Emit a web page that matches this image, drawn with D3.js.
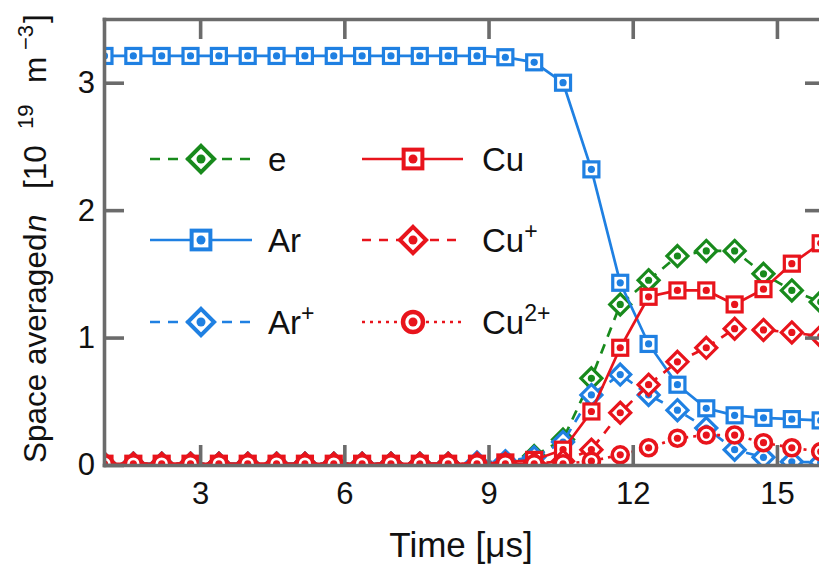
<!DOCTYPE html>
<html>
<head>
<meta charset="utf-8">
<script src="https://cdn.jsdelivr.net/npm/d3@7"></script>
<style>
  html, body { margin: 0; padding: 0; background: #fff; }
  svg { display: block; font-family: "Liberation Sans", Arial, sans-serif; }
</style>
</head>
<body>
<svg id="chart" width="819" height="567"></svg>
<script>
// Sampling instants [µs]
const time = [1.01, 1.61, 2.20, 2.80, 3.39, 3.99, 4.59, 5.18, 5.78, 6.37, 6.97, 7.57, 8.16,
              8.76, 9.35, 9.95, 10.55, 11.14, 11.74, 12.33, 12.93, 13.53, 14.12, 14.72, 15.31, 15.91];

// Space-averaged densities [10^19 m^-3]
const eDensity   = [0.01, 0.01, 0.01, 0.01, 0.01, 0.01, 0.01, 0.01, 0.01, 0.01, 0.01, 0.01, 0.01,
                    0.01, 0.01, 0.07, 0.20, 0.68, 1.26, 1.45, 1.64, 1.68, 1.68, 1.50, 1.37, 1.28];
const arDensity  = [3.21, 3.21, 3.21, 3.21, 3.21, 3.21, 3.21, 3.21, 3.21, 3.21, 3.21, 3.21, 3.21,
                    3.21, 3.20, 3.16, 3.00, 2.32, 1.43, 0.95, 0.63, 0.445, 0.39, 0.37, 0.36, 0.35];
const arPlus     = [0.01, 0.01, 0.01, 0.01, 0.01, 0.01, 0.01, 0.01, 0.01, 0.01, 0.01, 0.01, 0.01,
                    0.02, 0.03, 0.06, 0.18, 0.55, 0.71, 0.55, 0.43, 0.29, 0.12, 0.06, 0.025, 0.02];
const cuDensity  = [0.01, 0.01, 0.01, 0.01, 0.01, 0.01, 0.01, 0.01, 0.01, 0.01, 0.01, 0.01, 0.01,
                    0.01, 0.02, 0.04, 0.12, 0.42, 0.92, 1.32, 1.37, 1.37, 1.26, 1.38, 1.58, 1.74];
const cuPlus     = [0.01, 0.01, 0.01, 0.01, 0.01, 0.01, 0.01, 0.01, 0.01, 0.01, 0.01, 0.01, 0.01,
                    0.01, 0.01, 0.01, 0.03, 0.12, 0.41, 0.63, 0.81, 0.92, 1.07, 1.06, 1.04, 1.01];
const cu2Plus    = [0.01, 0.01, 0.01, 0.01, 0.01, 0.01, 0.01, 0.01, 0.01, 0.01, 0.01, 0.01, 0.01,
                    0.01, 0.01, 0.01, 0.01, 0.03, 0.08, 0.135, 0.21, 0.235, 0.235, 0.175, 0.135, 0.105];

// Axis ticks
const xTicks = [3, 6, 9, 12, 15];
const yTicks = [0, 1, 2, 3];

const GREEN = "#188a1c", BLUE = "#1f80e2", RED = "#e8141c", AXIS = "#6b6b6b";

const series = [
  { label: "e",  sup: "",   values: eDensity,  color: GREEN, dash: "10,8", shape: "diamond" },
  { label: "Ar", sup: "",   values: arDensity, color: BLUE,  dash: null,   shape: "square" },
  { label: "Ar", sup: "+",  values: arPlus,    color: BLUE,  dash: "10,8", shape: "diamond" },
  { label: "Cu", sup: "",   values: cuDensity, color: RED,   dash: null,   shape: "square" },
  { label: "Cu", sup: "+",  values: cuPlus,    color: RED,   dash: "9,8",  shape: "diamond" },
  { label: "Cu", sup: "2+", values: cu2Plus,   color: RED,   dash: "3,5",  shape: "circle" }
];

const svg = d3.select("#chart");
const plot = { left: 104, right: 825, top: 19, bottom: 465 };

const x = d3.scaleLinear().domain([1, 16]).range([plot.left, plot.right]);
const y = d3.scaleLinear().domain([0, 3.5]).range([plot.bottom, plot.top]);

svg.append("defs").append("clipPath").attr("id", "plotClip")
  .append("rect")
  .attr("x", plot.left).attr("y", plot.top)
  .attr("width", plot.right - plot.left).attr("height", plot.bottom - plot.top);

// Marker with white face and a centre dot
function drawMarker(g, shape, color, k) {
  if (shape === "square") {
    const h = 7.5 * k;
    g.append("rect").attr("x", -h).attr("y", -h).attr("width", 2 * h).attr("height", 2 * h)
      .attr("fill", "#fff").attr("stroke", color).attr("stroke-width", 3.2 * k);
  } else if (shape === "diamond") {
    const h = 10.5 * k;
    g.append("path").attr("d", `M0,${-h}L${h},0L0,${h}L${-h},0Z`)
      .attr("fill", "#fff").attr("stroke", color).attr("stroke-width", 3.2 * k)
      .attr("stroke-linejoin", "miter");
  } else {
    g.append("circle").attr("r", 8 * k)
      .attr("fill", "#fff").attr("stroke", color).attr("stroke-width", 3.6 * k);
  }
  g.append("circle").attr("r", 3.6 * k).attr("fill", color);
}

const dataLayer = svg.append("g").attr("clip-path", "url(#plotClip)");
const line = d3.line().x(d => x(d[0])).y(d => y(d[1]));

series.forEach(s => {
  const pts = time.map((t, i) => [t, s.values[i]]);
  const g = dataLayer.append("g");
  g.append("path").datum(pts)
    .attr("d", line)
    .attr("fill", "none")
    .attr("stroke", s.color)
    .attr("stroke-width", 2.7)
    .attr("stroke-dasharray", s.dash);
  g.selectAll("g.pt").data(pts).join("g")
    .attr("class", "pt")
    .attr("transform", d => `translate(${x(d[0])},${y(d[1])})`)
    .each(function () { drawMarker(d3.select(this), s.shape, s.color, 1); });
});

// Frame with inward ticks on all four sides
function styleAxis(g) {
  g.select(".domain").attr("stroke", AXIS).attr("stroke-width", 3.6).attr("stroke-linecap", "square");
  g.selectAll(".tick line").attr("stroke", AXIS).attr("stroke-width", 3.6);
  g.selectAll(".tick text").attr("fill", "#111").attr("font-size", 31)
    .attr("font-family", "'Liberation Sans', Arial, sans-serif");
}

svg.append("g").attr("transform", `translate(0,${plot.bottom})`)
  .call(d3.axisBottom(x).tickValues(xTicks).tickSizeInner(-20).tickSizeOuter(0).tickPadding(17)
    .tickFormat(d3.format("d")))
  .call(styleAxis);
svg.append("g").attr("transform", `translate(0,${plot.top})`)
  .call(d3.axisTop(x).tickValues(xTicks).tickSizeInner(-20).tickSizeOuter(0).tickFormat(""))
  .call(styleAxis);
svg.append("g").attr("transform", `translate(${plot.left},0)`)
  .call(d3.axisLeft(y).tickValues(yTicks).tickSizeInner(-20).tickSizeOuter(0).tickPadding(9)
    .tickFormat(d3.format("d")))
  .call(styleAxis);
svg.append("g").attr("transform", `translate(${plot.right},0)`)
  .call(d3.axisRight(y).tickValues(yTicks.filter(v => v > 0)).tickSizeInner(-20).tickSizeOuter(0).tickFormat(""))
  .call(styleAxis);

// Axis titles
svg.append("text")
  .attr("x", 461).attr("y", 557)
  .attr("text-anchor", "middle")
  .attr("font-size", 35).attr("fill", "#111")
  .text("Time [μs]");

const yTitle = svg.append("text")
  .attr("transform", "translate(46,463) rotate(-90)")
  .attr("font-size", 31.5).attr("fill", "#111");
yTitle.append("tspan").attr("x", 0).text("Space averaged");
yTitle.append("tspan").attr("x", 231).attr("font-style", "italic").text("n");
yTitle.append("tspan").attr("x", 274).text("[10");
yTitle.append("tspan").attr("x", 334).attr("dy", -13).attr("font-size", 22).text("19");
yTitle.append("tspan").attr("x", 380).attr("dy", 13).text("m");
yTitle.append("tspan").attr("x", 413).attr("dy", -13).attr("font-size", 22).text("−3");
yTitle.append("tspan").attr("x", 440).attr("dy", 13).text("]");

// Legend: two columns of three rows
const legendRows = [159, 240, 322];
const legendCols = [
  { x0: 150, x1: 252, marker: 201, text: 268 },
  { x0: 362, x1: 463, marker: 413, text: 482 }
];
const lg = svg.append("g");
series.forEach((s, i) => {
  const col = legendCols[Math.floor(i / 3)];
  const yy = legendRows[i % 3];
  const item = lg.append("g");
  item.append("line")
    .attr("x1", col.x0).attr("x2", col.x1).attr("y1", yy).attr("y2", yy)
    .attr("stroke", s.color).attr("stroke-width", 2.7)
    .attr("stroke-dasharray", s.dash);
  const m = item.append("g").attr("transform", `translate(${col.marker},${yy})`);
  drawMarker(m, s.shape, s.color, 1.25);
  const t = item.append("text").attr("x", col.text).attr("y", yy + 12)
    .attr("font-size", 33).attr("fill", "#111");
  t.append("tspan").text(s.label);
  if (s.sup) t.append("tspan").attr("dy", -13).attr("font-size", 23).text(s.sup);
});
</script>
</body>
</html>
